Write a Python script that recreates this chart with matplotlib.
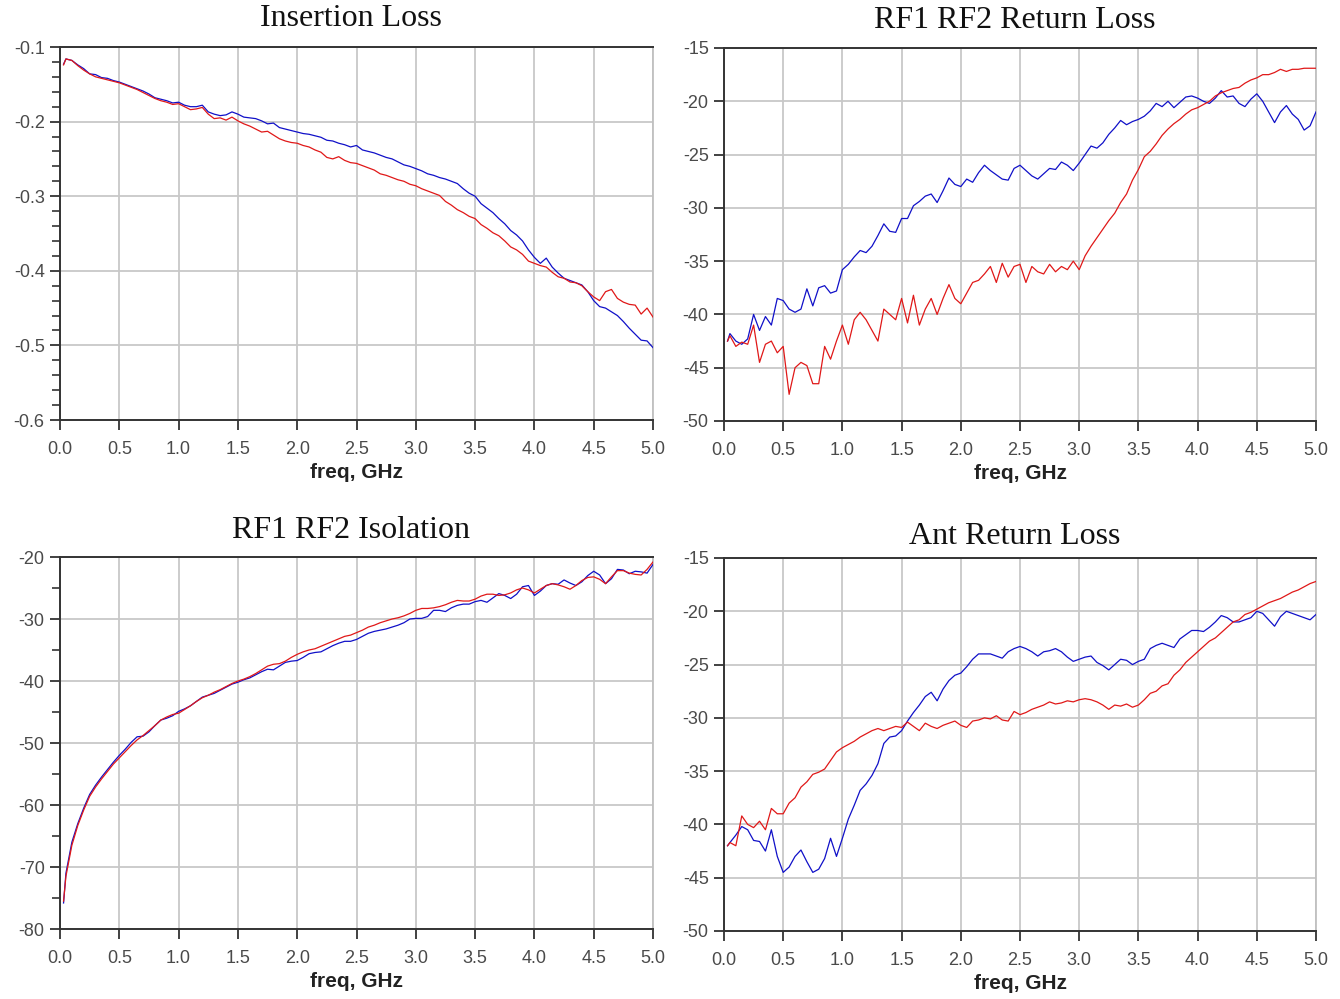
import numpy as np
import matplotlib
matplotlib.use("Agg")
import matplotlib.pyplot as plt
from matplotlib.ticker import MultipleLocator, AutoMinorLocator, FormatStrFormatter

# ---------------- data ----------------
freq = np.round(np.concatenate([[0.03], np.arange(1, 101) * 0.05]), 3)

il_blue = [-0.123, -0.116, -0.118, -0.124, -0.129, -0.136, -0.137, -0.141, -0.142, -0.145,
           -0.147, -0.150, -0.153, -0.156, -0.159, -0.163, -0.168, -0.170, -0.172, -0.175,
           -0.174, -0.178, -0.180, -0.180, -0.178, -0.187, -0.190, -0.192, -0.191, -0.187,
           -0.190, -0.194, -0.195, -0.196, -0.199, -0.203, -0.202, -0.208, -0.210, -0.212,
           -0.214, -0.216, -0.217, -0.219, -0.221, -0.225, -0.226, -0.229, -0.231, -0.234,
           -0.232, -0.238, -0.240, -0.242, -0.245, -0.248, -0.250, -0.254, -0.258, -0.260,
           -0.263, -0.266, -0.270, -0.272, -0.275, -0.277, -0.280, -0.283, -0.290, -0.296,
           -0.300, -0.310, -0.316, -0.322, -0.330, -0.337, -0.346, -0.352, -0.360, -0.372,
           -0.382, -0.390, -0.383, -0.395, -0.403, -0.410, -0.413, -0.416, -0.419, -0.428,
           -0.440, -0.448, -0.450, -0.455, -0.460, -0.468, -0.477, -0.485, -0.493, -0.494,
           -0.503]
il_red = [-0.124, -0.116, -0.118, -0.125, -0.131, -0.136, -0.140, -0.142, -0.144, -0.146,
          -0.148, -0.151, -0.154, -0.157, -0.161, -0.165, -0.169, -0.172, -0.174, -0.177,
          -0.176, -0.180, -0.184, -0.183, -0.181, -0.190, -0.196, -0.195, -0.198, -0.194,
          -0.199, -0.203, -0.206, -0.210, -0.214, -0.213, -0.218, -0.223, -0.226, -0.228,
          -0.229, -0.232, -0.234, -0.238, -0.241, -0.248, -0.250, -0.247, -0.252, -0.255,
          -0.256, -0.259, -0.262, -0.265, -0.270, -0.272, -0.275, -0.278, -0.280, -0.284,
          -0.286, -0.290, -0.293, -0.296, -0.299, -0.307, -0.312, -0.318, -0.322, -0.327,
          -0.330, -0.338, -0.343, -0.349, -0.353, -0.360, -0.368, -0.372, -0.378, -0.387,
          -0.390, -0.393, -0.395, -0.402, -0.408, -0.410, -0.415, -0.416, -0.420, -0.428,
          -0.435, -0.440, -0.428, -0.425, -0.437, -0.442, -0.445, -0.446, -0.458, -0.450,
          -0.462]

rl_blue = [-42.5, -41.8, -42.5, -42.8, -42.3, -40.0, -41.5, -40.2, -41.0, -38.5,
           -38.7, -39.5, -39.8, -39.5, -37.6, -39.2, -37.5, -37.3, -38.0, -37.8,
           -35.8, -35.3, -34.6, -34.0, -34.2, -33.6, -32.6, -31.5, -32.2, -32.3,
           -31.0, -31.0, -29.8, -29.4, -28.9, -28.7, -29.5, -28.4, -27.2, -27.8,
           -28.0, -27.3, -27.6, -26.7, -26.0, -26.5, -26.9, -27.3, -27.4, -26.3,
           -26.0, -26.5, -27.0, -27.3, -26.8, -26.3, -26.4, -25.7, -26.0, -26.5,
           -25.8, -25.0, -24.2, -24.4, -23.9, -23.1, -22.5, -21.8, -22.2, -21.9,
           -21.7, -21.4, -20.9, -20.2, -20.5, -20.0, -20.6, -20.1, -19.6, -19.5,
           -19.7, -20.0, -20.2, -19.7, -19.0, -19.6, -19.5, -20.2, -20.5, -19.8,
           -19.3, -20.0, -21.0, -22.0, -21.0, -20.4, -21.2, -21.7, -22.7, -22.3,
           -21.0]
rl_red = [-42.5, -42.0, -43.0, -42.6, -42.8, -41.0, -44.5, -42.8, -42.5, -43.6,
          -43.0, -47.5, -45.0, -44.5, -44.8, -46.5, -46.5, -43.0, -44.2, -42.5,
          -41.0, -42.8, -40.5, -39.8, -40.5, -41.5, -42.5, -39.5, -40.0, -40.5,
          -38.5, -40.8, -38.2, -41.0, -39.5, -38.5, -40.0, -38.5, -37.2, -38.5,
          -39.0, -38.0, -37.0, -36.8, -36.2, -35.5, -37.0, -35.2, -36.5, -35.5,
          -35.3, -37.0, -35.5, -36.0, -36.2, -35.3, -36.0, -35.5, -35.8, -35.0,
          -35.8, -34.5, -33.6, -32.8, -32.0, -31.2, -30.5, -29.5, -28.7, -27.4,
          -26.4, -25.2, -24.7, -24.0, -23.2, -22.6, -22.1, -21.7, -21.2, -20.8,
          -20.6, -20.3, -20.0, -19.5, -19.2, -19.0, -18.8, -18.7, -18.3, -18.0,
          -17.8, -17.5, -17.5, -17.3, -17.0, -17.2, -17.0, -17.0, -16.9, -16.9,
          -16.9]

iso_blue = [-75.8, -71.0, -66.0, -63.0, -60.5, -58.3, -56.8, -55.5, -54.3, -53.1,
            -52.0, -51.0, -49.9, -49.0, -48.9, -48.2, -47.2, -46.3, -46.0, -45.6,
            -44.9, -44.5, -44.0, -43.3, -42.6, -42.3, -42.0, -41.5, -41.0, -40.5,
            -40.2, -39.8, -39.5, -39.0, -38.5, -38.1, -38.2, -37.6, -37.0, -36.8,
            -36.7, -36.2, -35.6, -35.4, -35.3, -34.8, -34.3, -33.9, -33.6, -33.6,
            -33.3, -32.8, -32.3, -32.0, -31.8, -31.6, -31.3, -31.0, -30.6, -30.0,
            -29.9, -29.9, -29.6, -28.6, -28.6, -28.8, -28.2, -27.8, -27.6, -27.6,
            -27.2, -27.0, -27.3, -26.6, -25.9, -26.2, -26.7, -26.0, -24.8, -24.6,
            -26.2, -25.5, -24.6, -24.3, -24.4, -23.7, -24.2, -24.6, -24.0, -23.0,
            -22.3, -22.9, -24.3, -23.5, -22.0, -22.1, -22.7, -22.3, -22.4, -22.6,
            -21.2]
iso_red = [-75.5, -71.5, -66.5, -63.3, -60.8, -58.6, -57.1, -55.8, -54.6, -53.4,
           -52.4, -51.4, -50.4, -49.5, -48.8, -48.0, -47.2, -46.3, -45.8, -45.4,
           -45.2, -44.6, -44.0, -43.3, -42.7, -42.3, -41.8, -41.4, -40.9, -40.4,
           -40.0, -39.7, -39.3, -38.8, -38.2, -37.6, -37.3, -37.2, -36.8, -36.2,
           -35.7, -35.3, -35.0, -34.8, -34.4, -34.0, -33.6, -33.2, -32.8, -32.6,
           -32.2, -31.8, -31.3, -31.0, -30.6, -30.3, -30.0, -29.8, -29.5, -29.1,
           -28.6, -28.3, -28.3, -28.2, -28.0, -27.7, -27.3, -27.0, -27.1, -27.1,
           -26.8, -26.3, -26.0, -26.0, -26.2, -26.1, -25.8, -25.3, -25.0, -25.3,
           -25.8, -25.2, -24.6, -24.3, -24.5, -24.8, -25.2, -24.6, -23.8, -23.3,
           -23.2, -23.6, -24.3, -23.2, -22.2, -22.2, -22.6, -22.8, -22.9, -22.0,
           -20.8]

arl_blue = [-42.0, -41.7, -41.0, -40.2, -40.5, -41.5, -41.6, -42.5, -40.5, -43.0,
            -44.5, -44.0, -43.0, -42.4, -43.5, -44.5, -44.2, -43.2, -41.3, -43.0,
            -41.3, -39.5, -38.2, -36.8, -36.2, -35.4, -34.3, -32.4, -31.8, -31.7,
            -31.2, -30.3, -29.5, -28.8, -28.0, -27.6, -28.4, -27.3, -26.5, -26.0,
            -25.8, -25.2, -24.5, -24.0, -24.0, -24.0, -24.2, -24.4, -23.8, -23.5,
            -23.3, -23.5, -23.8, -24.2, -23.8, -23.7, -23.5, -23.8, -24.3, -24.7,
            -24.5, -24.3, -24.2, -24.8, -25.1, -25.5, -25.0, -24.5, -24.6, -25.0,
            -24.7, -24.5, -23.5, -23.2, -23.0, -23.2, -23.4, -22.6, -22.2, -21.8,
            -21.8, -21.9, -21.5, -21.0, -20.4, -20.6, -21.0, -21.0, -20.8, -20.6,
            -20.0, -20.2, -20.8, -21.4, -20.5, -20.0, -20.2, -20.4, -20.6, -20.8,
            -20.3]
arl_red = [-42.0, -41.7, -42.0, -39.2, -40.0, -40.3, -39.7, -40.5, -38.5, -39.0,
           -39.0, -38.0, -37.5, -36.5, -36.0, -35.3, -35.1, -34.8, -34.0, -33.2,
           -32.8, -32.5, -32.2, -31.8, -31.5, -31.2, -31.0, -31.2, -31.0, -30.8,
           -30.9, -30.4, -30.8, -31.2, -30.5, -30.8, -31.0, -30.7, -30.5, -30.3,
           -30.7, -30.9, -30.3, -30.2, -30.0, -30.1, -29.8, -30.2, -30.3, -29.4,
           -29.7, -29.5, -29.2, -29.0, -28.8, -28.5, -28.7, -28.6, -28.4, -28.5,
           -28.3, -28.2, -28.3, -28.5, -28.8, -29.2, -28.8, -28.9, -28.7, -29.0,
           -28.8, -28.3, -27.7, -27.5, -27.0, -26.8, -26.0, -25.5, -24.8, -24.3,
           -23.8, -23.3, -22.8, -22.5, -22.0, -21.5, -21.0, -20.8, -20.3, -20.1,
           -19.8, -19.5, -19.2, -19.0, -18.8, -18.5, -18.2, -18.0, -17.7, -17.4,
           -17.2]

titles = ["Insertion Loss", "RF1 RF2 Return Loss", "RF1 RF2 Isolation", "Ant Return Loss"]
xlabel = "freq, GHz"
x_ticks = [0.0, 0.5, 1.0, 1.5, 2.0, 2.5, 3.0, 3.5, 4.0, 4.5, 5.0]

# ---------------- style ----------------
BLUE = "#1010c8"
RED = "#e01818"
TICK_FONT = ["Liberation Sans Narrow", "Liberation Sans", "DejaVu Sans"]

fig = plt.figure(figsize=(13.4, 9.99), dpi=100)
W, H = 1340, 999
def rect(l, r, t, b):
    return [l / W, 1 - b / H, (r - l) / W, (b - t) / H]

panels = [
    dict(rect=rect(60, 653, 47, 420), title=titles[0], ylim=(-0.6, -0.1), major=0.1, minor=5,
         fmt="%.1f", series=(il_blue, il_red), title_y=19),
    dict(rect=rect(724, 1316, 48, 421), title=titles[1], ylim=(-50, -15), major=5, minor=None,
         fmt="%d", series=(rl_blue, rl_red), title_y=20),
    dict(rect=rect(60, 653, 557, 929), title=titles[2], ylim=(-80, -20), major=10, minor=2,
         fmt="%d", series=(iso_blue, iso_red), title_y=531),
    dict(rect=rect(724, 1316, 558, 931), title=titles[3], ylim=(-50, -15), major=5, minor=None,
         fmt="%d", series=(arl_blue, arl_red), title_y=536),
]

for p in panels:
    ax = fig.add_axes(p["rect"])
    b, r = p["series"]
    ax.plot(freq, b, color=BLUE, lw=0.9, zorder=3)
    ax.plot(freq, r, color=RED, lw=0.9, zorder=4)
    ax.set_xlim(0, 5.0)
    ax.set_ylim(*p["ylim"])
    ax.set_xticks(x_ticks)
    ax.xaxis.set_major_formatter(FormatStrFormatter("%.1f"))
    ax.yaxis.set_major_locator(MultipleLocator(p["major"]))
    ax.yaxis.set_major_formatter(FormatStrFormatter(p["fmt"]))
    if p["minor"]:
        ax.yaxis.set_minor_locator(AutoMinorLocator(p["minor"]))
    ax.grid(True, which="major", color="#c8c8c8", lw=1.3, zorder=1)
    ax.set_axisbelow(True)
    for s in ["left", "bottom", "top"]:
        ax.spines[s].set_color("#333333")
        ax.spines[s].set_linewidth(1.4)
    ax.spines["right"].set_color("#c0c0c0")
    ax.spines["right"].set_linewidth(1.3)
    ax.tick_params(axis="both", which="major", direction="out", length=7, width=1.3,
                   color="#333333", labelcolor="#4a4a4a", labelsize=13)
    ax.tick_params(axis="y", which="minor", direction="out", length=6, width=1.2, color="#333333")
    ax.tick_params(axis="x", pad=8)
    ax.tick_params(axis="y", pad=4)
    for lab in ax.get_xticklabels() + ax.get_yticklabels():
        lab.set_family(TICK_FONT)
        lab.set_fontweight("light")
    ax.set_xlabel(xlabel, family=["Liberation Sans", "DejaVu Sans"], fontsize=15,
                  fontweight="bold", color="#222222", labelpad=4)
    cx = (p["rect"][0] + p["rect"][2] / 2)
    fig.text(cx - 0.004, 1 - p["title_y"] / H, p["title"], family=["Liberation Serif", "DejaVu Serif"],
             fontsize=23, ha="center", va="center", color="#111111")

fig.savefig("out.png", dpi=100)
